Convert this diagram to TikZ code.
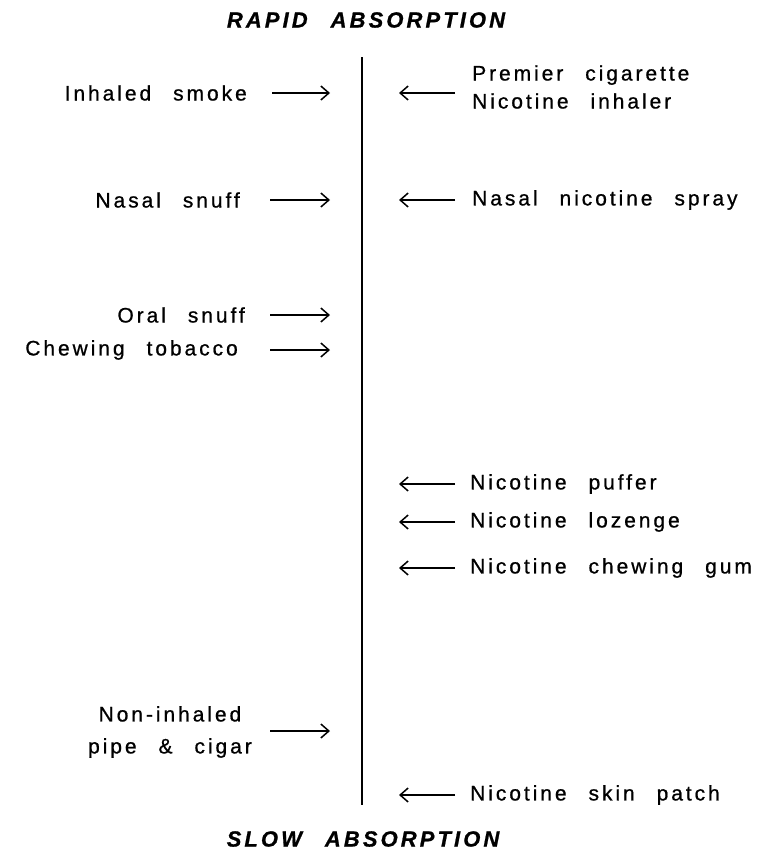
\documentclass[tikz,border=0pt]{standalone}
\usepackage{fontspec}
\setmainfont{Liberation Sans}[LetterSpace=14,WordSpace=2.5,FakeBold=0.8]
\usetikzlibrary{arrows.meta}
\begin{document}
\begin{tikzpicture}[x=1pt,y=-1pt,
  lbl/.style={font=\fontsize{21}{28}\selectfont, inner sep=0pt},
  ttl/.style={font=\fontsize{22}{24}\selectfont\itshape\bfseries, inner sep=0pt},
  arr/.style={line width=1.5pt, -{Straight Barb[length=8pt,width=14pt,line width=1.5pt]}}]
\useasboundingbox (0,0) rectangle (757,854);
\node[ttl] (top) at (366,20) {RAPID ABSORPTION};
\node[ttl] (bot) at (363,839) {SLOW ABSORPTION};
\coordinate (ltop) at (362,57);
\coordinate (lbot) at (362,805);
\draw[line width=1.3pt] (ltop) -- (lbot);
% left side
\node[lbl, anchor=east] (l1) at (247,93) {Inhaled smoke};
\coordinate (l1a) at (272,93); \coordinate (l1b) at (330,93);
\draw[arr] (l1a) -- (l1b);
\node[lbl, anchor=east] (l2) at (240,200) {Nasal snuff};
\coordinate (l2a) at (270,200); \coordinate (l2b) at (330,200);
\draw[arr] (l2a) -- (l2b);
\node[lbl, anchor=east] (l3) at (245,315) {Oral snuff};
\coordinate (l3a) at (270,315); \coordinate (l3b) at (330,315);
\draw[arr] (l3a) -- (l3b);
\node[lbl, anchor=east] (l4) at (238,350) {Chewing tobacco};
\coordinate (l4a) at (270,350); \coordinate (l4b) at (330,350);
\draw[arr] (l4a) -- (l4b);
\node[lbl, anchor=east, align=center] (l5) at (252,732) {Non-inhaled\\[4pt]pipe \& cigar};
\coordinate (l5a) at (270,731); \coordinate (l5b) at (330,731);
\draw[arr] (l5a) -- (l5b);
% right side
\node[lbl, anchor=west, align=left] (r1) at (472,87) {Premier cigarette\\Nicotine inhaler};
\coordinate (r1a) at (455,93); \coordinate (r1b) at (399,93);
\draw[arr] (r1a) -- (r1b);
\node[lbl, anchor=west] (r2) at (472,200) {Nasal nicotine spray};
\coordinate (r2a) at (455,200); \coordinate (r2b) at (399,200);
\draw[arr] (r2a) -- (r2b);
\node[lbl, anchor=west] (r3) at (470,484) {Nicotine puffer};
\coordinate (r3a) at (455,484); \coordinate (r3b) at (399,484);
\draw[arr] (r3a) -- (r3b);
\node[lbl, anchor=west] (r4) at (470,522) {Nicotine lozenge};
\coordinate (r4a) at (455,522); \coordinate (r4b) at (399,522);
\draw[arr] (r4a) -- (r4b);
\node[lbl, anchor=west] (r5) at (470,568) {Nicotine chewing gum};
\coordinate (r5a) at (455,568); \coordinate (r5b) at (399,568);
\draw[arr] (r5a) -- (r5b);
\node[lbl, anchor=west] (r6) at (470,795) {Nicotine skin patch};
\coordinate (r6a) at (455,795); \coordinate (r6b) at (399,795);
\draw[arr] (r6a) -- (r6b);
\end{tikzpicture}
\end{document}
